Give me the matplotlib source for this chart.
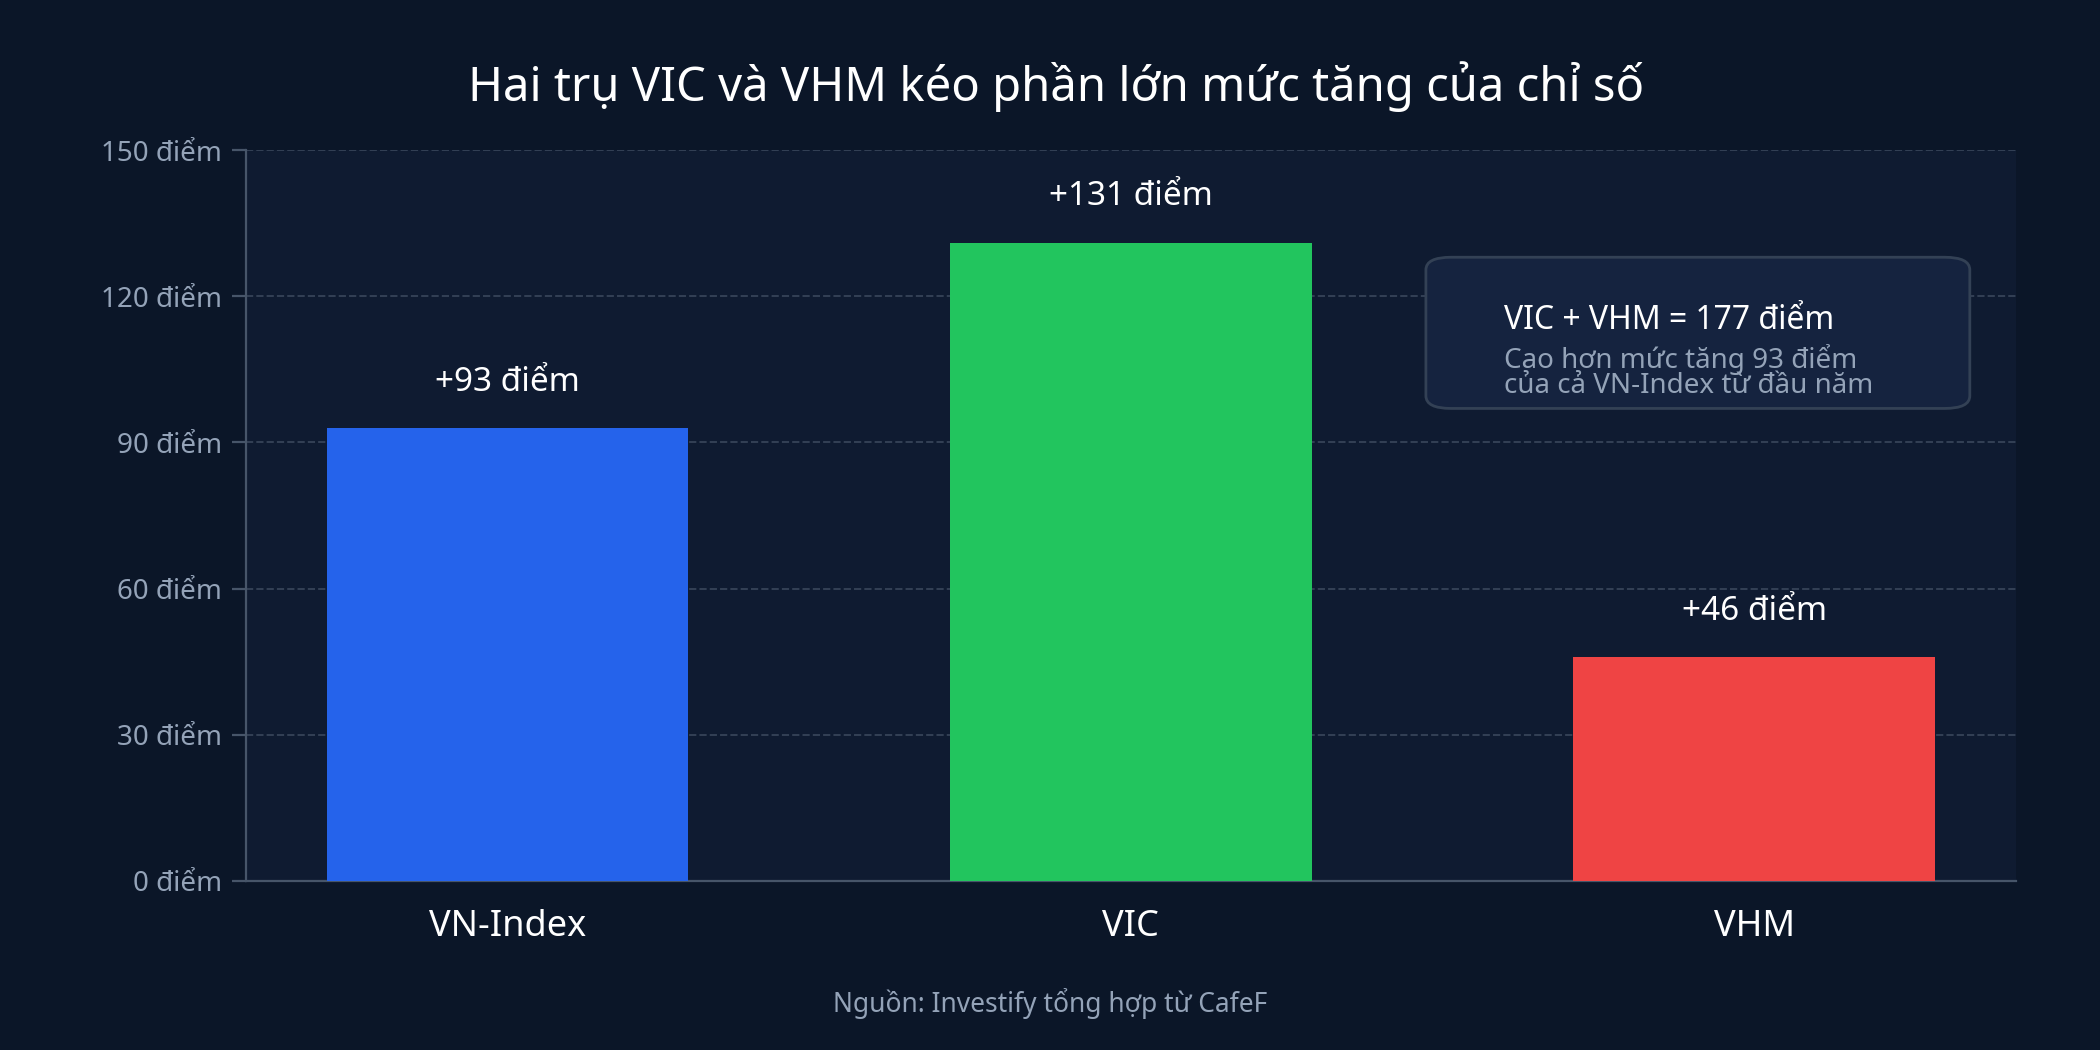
import matplotlib.pyplot as plt
from matplotlib.patches import FancyBboxPatch

plt.rcParams['font.family'] = ['Noto Sans', 'DejaVu Sans']

categories = ['VN-Index', 'VIC', 'VHM']
values = [93, 131, 46]
colors = ['#2563eb', '#22c55e', '#ef4444']
yticks = [0, 30, 60, 90, 120, 150]

fig = plt.figure(figsize=(10.5, 5.25), dpi=200, facecolor='#0b1628')
ax = fig.add_axes([0.117, 0.161, 0.843, 0.696], facecolor='#0f1b31')

x = range(len(categories))
ax.bar(x, values, width=0.58, color=colors, zorder=3)
for xi, v in zip(x, values):
    ax.text(xi, v + 6, f'+{v} điểm', ha='center', va='bottom', color='white',
            fontsize=12, fontweight='bold')

ax.set_xlim(-0.42, 2.42)
ax.set_ylim(0, 150)
ax.set_yticks(yticks)
ax.set_yticklabels([f'{t} điểm' for t in yticks], color='#94a3b8', fontsize=10)
ax.set_xticks(list(x))
ax.set_xticklabels(categories, color='white', fontsize=13)
ax.tick_params(axis='x', length=0, pad=10)
ax.tick_params(axis='y', color='#475569', length=5)
ax.grid(axis='y', color='#334155', linestyle='--', linewidth=0.7, zorder=0)
for s in ['top', 'right']:
    ax.spines[s].set_visible(False)
for s in ['left', 'bottom']:
    ax.spines[s].set_color('#475569')

fig.text(0.503, 0.918, 'Hai trụ VIC và VHM kéo phần lớn mức tăng của chỉ số',
         ha='center', va='center', color='white', fontsize=17, fontweight='bold')

box = FancyBboxPatch((0.679, 0.611), 0.259, 0.144, boxstyle='round,pad=0,rounding_size=0.012',
                     transform=fig.transFigure, facecolor='#15233f', edgecolor='#334155',
                     linewidth=1, zorder=5)
fig.patches.append(box)
fig.text(0.716, 0.695, 'VIC + VHM = 177 điểm', color='white', fontsize=11.5,
         fontweight='bold', va='center', zorder=6)
fig.text(0.716, 0.646, 'Cao hơn mức tăng 93 điểm\ncủa cả VN-Index từ đầu năm',
         color='#94a3b8', fontsize=10, va='center', linespacing=0.85, zorder=6)

fig.text(0.5, 0.044, 'Nguồn: Investify tổng hợp từ CafeF', ha='center', va='center',
         color='#94a3b8', fontsize=9.5)

fig.savefig('out.png', facecolor=fig.get_facecolor())
